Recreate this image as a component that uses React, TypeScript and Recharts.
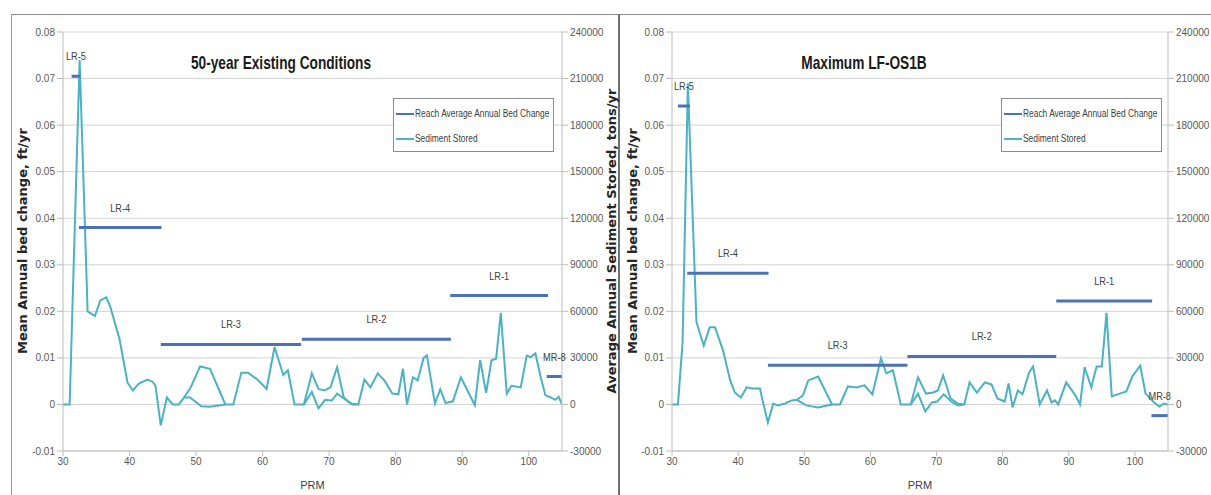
import React from 'react';
import { ComposedChart, Line, XAxis, YAxis, CartesianGrid, Legend, ReferenceDot } from 'recharts';

const REACH_NAME = 'Reach Average Annual Bed Change';
const SED_NAME = 'Sediment Stored';
const X_LABEL = 'PRM';
const LEFT_AXIS_TITLE = 'Mean Annual bed change, ft/yr';
const RIGHT_AXIS_TITLE = 'Average Annual Sediment Stored, tons/yr';

const xTicks = [30, 40, 50, 60, 70, 80, 90, 100];
const bedTicks = [-0.01, 0, 0.01, 0.02, 0.03, 0.04, 0.05, 0.06, 0.07, 0.08];
const sedTicks = [-30000, 0, 30000, 60000, 90000, 120000, 150000, 180000, 210000, 240000];

// ---------- Panel A: 50-year Existing Conditions ----------
const titleA = '50-year Existing Conditions';
const reachNamesA = ['LR-5', 'LR-4', 'LR-3', 'LR-2', 'LR-1', 'MR-8'];
const reachStartA = [31.3, 32.4, 44.7, 65.9, 88.2, 102.7];
const reachEndA = [32.6, 44.8, 65.8, 88.3, 102.9, 105];
const reachBedA = [0.0705, 0.038, 0.0129, 0.014, 0.0234, 0.006];

const sedMileA = [30, 31, 32.5, 33.7, 34.8, 35.6, 36.5, 37.1, 38.5, 39.7, 40.5, 41.4, 42.7, 43.5, 43.9, 44.7, 45.6, 46.5, 47.4, 48.2,
  49.2, 50.6, 52.1, 54.4, 55.6, 56.8, 57.8, 59.1, 60.6, 61.8, 63.1, 63.8, 64.8, 66.2,
  67.4, 68.4, 69.3, 70.2, 71.2, 72.2, 73.2, 74.4, 75.3, 76.2, 77.3, 78.3, 79.5, 80.4, 81.1, 81.7, 82.6, 83.3, 84.2, 84.7,
  85.9, 86.7, 87.5, 88.6, 89.8, 91.9, 92.7, 93.6, 94.4, 95.1, 95.8, 96.7, 97.4, 98.8, 99.7, 100.3, 101, 101.8, 102.5,
  103.3, 104, 104.5, 105];
const sedTonsA = [0, 0, 222000, 60000, 57000, 67000, 69000, 63000, 42000, 14000, 9000, 13500, 16000, 14500, 12000, -13500, 4500, 0, 0, 4500,
  11000, 24500, 23000, 0, 0, 20500, 20500, 16500, 10000, 37000, 19000, 22000, 0, 0,
  20000, 10000, 9000, 11000, 24000, 4500, 600, 0, 16000, 11000, 20000, 15500, 7000, 6500, 23000, 0, 17500, 15500, 30000, 31500,
  600, 9700, 900, 2000, 17500, -500, 28500, 7500, 28500, 29500, 59000, 7000, 12000, 11000, 31500, 30500, 33000, 17500, 6000,
  4500, 3000, 5000, 0];
const branch1MileA = [48.2, 49.1, 50.8, 52.1, 54.4];
const branch1TonsA = [4500, 4500, -1200, -1500, 0];
const branch2MileA = [66.2, 67.4, 68.4, 69.4, 70.4, 71.2, 72.5, 73.5, 74.4];
const branch2TonsA = [0, 8000, -2500, 3000, 2500, 7000, 3000, 0, 0];

// ---------- Panel B: Maximum LF-OS1B ----------
const titleB = 'Maximum LF-OS1B';
const reachNamesB = ['LR-5', 'LR-4', 'LR-3', 'LR-2', 'LR-1', 'MR-8'];
const reachStartB = [30.9, 32.3, 44.5, 65.6, 88.1, 102.5];
const reachEndB = [32.7, 44.6, 65.6, 88.1, 102.6, 105];
const reachBedB = [0.0641, 0.0282, 0.0084, 0.0103, 0.0222, -0.0024];

const sedMileB = [30, 30.9, 31.6, 32.4, 33.7, 34.8, 35.7, 36.5, 37.7, 38.8, 39.5, 40.4, 41.3, 42.1, 43.3, 43.7, 44.5, 45.3, 46.0, 47.1, 48.1, 48.9,
  49.8, 50.6, 52.1, 54.2, 55.4, 56.6, 57.9, 59.1, 60.3, 61.6, 62.4, 63.4, 64.6, 66.1,
  67.2, 68.4, 69.5, 70.2, 71.0, 72.1, 73.2, 74.2, 75.0, 76.1, 77.3, 78.3, 79.2, 80.3, 80.9, 81.5, 82.3, 83.0, 84.0, 84.6,
  85.6, 86.7, 87.4, 87.9, 88.4, 89.6, 90.9, 91.7, 92.4, 93.4, 94.2, 95.0, 95.7, 96.5, 97.7, 98.7, 99.6, 100.8, 101.6,
  102.9, 103.7, 104.4, 105];
const sedTonsB = [0, 0, 40000, 207000, 53000, 38000, 49700, 49700, 35000, 15500, 7700, 4500, 11000, 10300, 10300, 2600, -11600, 600, -600, 600, 2600, 3000,
  5800, 15500, 18000, 0, 0, 11600, 11000, 12300, 6500, 29700, 20000, 22000, 0, 0,
  17500, 7000, 7700, 9000, 18700, 4000, 600, 0, 14200, 7700, 14200, 12900, 3900, 1900, 13500, -1900, 9000, 6500, 20600, 24500,
  0, 9000, 1300, 2600, 0, 14200, 6500, 0, 24000, 11000, 24500, 24500, 59000, 5200, 7000, 8400, 18000, 25000, 7000,
  1300, -1300, 600, 0];
const branch1MileB = [48.9, 50.3, 52.1, 54.2];
const branch1TonsB = [3000, -600, -1900, 0];
const branch2MileB = [66.1, 67.2, 68.3, 69.3, 70.1, 71.1, 72.2, 73.2, 74.2];
const branch2TonsB = [0, 7000, -4500, 1300, 1900, 6500, 1900, -600, 0];

const REACH_COLOR = '#4a72b6';
const SED_COLOR = '#4bb2c2';
const TEXT_COLOR = '#404040';
const GRID_COLOR = '#d3d3d3';
const AXIS_COLOR = '#bdbdbd';

const toRows = (xs: number[], ys: number[]) => xs.map((x, i) => ({ x, v: ys[i] }));

const bedFmt = (v: number) => (v === 0 ? '0' : v.toFixed(2));

const segLabel = (text: string) => (props: any) => {
  const vb = props.viewBox || {};
  const cx = (vb.x || 0) + (vb.width || 0) / 2;
  const cy = vb.y || 0;
  return (
    <text
      x={0}
      y={0}
      transform={`translate(${cx},${cy - 16}) scale(0.8,1)`}
      textAnchor="middle"
      fontSize={11.5}
      fontFamily="Liberation Sans, Arial, sans-serif"
      fill={TEXT_COLOR}
    >
      {text}
    </text>
  );
};

const renderLegend = (props: any) => {
  const payload = (props.payload || []).filter((p: any) => p.type !== 'none');
  const ordered = [REACH_NAME, SED_NAME]
    .map((n) => payload.find((p: any) => p.value === n))
    .filter(Boolean);
  return (
    <div
      style={{
        border: '1px solid #8c8c8c',
        background: '#fff',
        width: 161,
        height: 54,
        boxSizing: 'border-box',
        paddingTop: 2,
        paddingLeft: 2,
      }}
    >
      {ordered.map((p: any) => (
        <div key={p.value} style={{ display: 'flex', alignItems: 'center', height: 25 }}>
          <span style={{ width: 18, height: 2, background: p.color, display: 'inline-block', flex: 'none' }} />
          <span
            style={{
              fontSize: 10,
              fontFamily: 'Liberation Sans, Arial, sans-serif',
              color: TEXT_COLOR,
              transform: 'scaleX(0.84)',
              transformOrigin: 'left center',
              whiteSpace: 'nowrap',
              marginLeft: 1,
            }}
          >
            {p.value}
          </span>
        </div>
      ))}
    </div>
  );
};

type PanelProps = {
  left: number;
  width: number;
  marginLeft: number;
  leftAxisW: number;
  legendLeft: number;
  names: string[];
  starts: number[];
  ends: number[];
  beds: number[];
  sedMile: number[];
  sedTons: number[];
  b1Mile: number[];
  b1Tons: number[];
  b2Mile: number[];
  b2Tons: number[];
};

const Panel = (p: PanelProps) => {
  const sedRows = toRows(p.sedMile, p.sedTons);
  const b1Rows = toRows(p.b1Mile, p.b1Tons);
  const b2Rows = toRows(p.b2Mile, p.b2Tons);
  const segs = p.names.map((name, i) => ({
    name,
    rows: [
      { x: p.starts[i], v: p.beds[i] },
      { x: p.ends[i], v: p.beds[i] },
    ],
    mid: (p.starts[i] + p.ends[i]) / 2,
    bed: p.beds[i],
  }));
  const tickStyle = { fontSize: 10, fill: '#595959', fontFamily: 'Liberation Sans, Arial, sans-serif' };
  return (
    <div style={{ position: 'absolute', left: p.left, top: 0 }}>
      <ComposedChart width={p.width} height={500} margin={{ top: 32, right: 0, bottom: 9, left: p.marginLeft }}>
        <CartesianGrid yAxisId="L" vertical={false} stroke={GRID_COLOR} />
        <XAxis
          dataKey="x"
          type="number"
          domain={[30, 105]}
          ticks={xTicks}
          allowDataOverflow
          height={40}
          tick={tickStyle}
          tickSize={5}
          stroke={AXIS_COLOR}
          label={{ value: X_LABEL, position: 'insideBottom', offset: 2, fontSize: 11, fill: TEXT_COLOR, fontFamily: 'Liberation Sans, Arial, sans-serif' }}
        />
        <YAxis
          yAxisId="L"
          type="number"
          domain={[-0.01, 0.08]}
          ticks={bedTicks}
          allowDataOverflow
          width={p.leftAxisW}
          tick={tickStyle}
          tickFormatter={bedFmt}
          tickSize={6}
          stroke={AXIS_COLOR}
        />
        <YAxis
          yAxisId="R"
          orientation="right"
          type="number"
          domain={[-30000, 240000]}
          ticks={sedTicks}
          allowDataOverflow
          width={57}
          tick={tickStyle}
          tickSize={6}
          stroke={AXIS_COLOR}
        />
        <Line
          data={sedRows}
          dataKey="v"
          yAxisId="R"
          name={SED_NAME}
          stroke={SED_COLOR}
          strokeWidth={2}
          dot={false}
          activeDot={false}
          legendType="plainline"
          isAnimationActive={false}
        />
        <Line data={b1Rows} dataKey="v" yAxisId="R" name="branch1" stroke={SED_COLOR} strokeWidth={2} dot={false} activeDot={false} legendType="none" isAnimationActive={false} />
        <Line data={b2Rows} dataKey="v" yAxisId="R" name="branch2" stroke={SED_COLOR} strokeWidth={2} dot={false} activeDot={false} legendType="none" isAnimationActive={false} />
        {segs.map((s, i) => (
          <Line
            key={s.name}
            data={s.rows}
            dataKey="v"
            yAxisId="L"
            name={i === 0 ? REACH_NAME : `${REACH_NAME} ${s.name}`}
            stroke={REACH_COLOR}
            strokeWidth={3}
            dot={false}
            activeDot={false}
            legendType={i === 0 ? 'plainline' : 'none'}
            isAnimationActive={false}
          />
        ))}
        {segs.map((s) => (
          <ReferenceDot
            key={`lbl-${s.name}`}
            yAxisId="L"
            x={s.mid}
            y={s.bed}
            r={0}
            fill="none"
            stroke="none"
            label={segLabel(s.name)}
          />
        ))}
        <Legend
          layout="vertical"
          align="center"
          verticalAlign="middle"
          content={renderLegend}
          wrapperStyle={{ position: 'absolute', left: p.legendLeft, top: 98, width: 161, height: 54 }}
        />
      </ComposedChart>
    </div>
  );
};

const rotTitle = (text: string, cx: number, cy: number) => (
  <div
    style={{
      position: 'absolute',
      left: cx,
      top: cy,
      transform: 'translate(-50%, -50%) rotate(-90deg)',
      whiteSpace: 'nowrap',
      fontFamily: 'DejaVu Sans, Verdana, sans-serif',
      fontWeight: 'bold',
      fontSize: 13,
      color: '#262626',
    }}
  >
    {text}
  </div>
);

const chartTitle = (text: string, cx: number, cy: number) => (
  <div
    style={{
      position: 'absolute',
      left: cx,
      top: cy,
      transform: 'translate(-50%, -50%) scaleX(0.72)',
      whiteSpace: 'nowrap',
      fontFamily: 'Liberation Sans, Arial, sans-serif',
      fontWeight: 'bold',
      fontSize: 19,
      color: '#1a1a1a',
    }}
  >
    {text}
  </div>
);

export default function App() {
  return (
    <div style={{ position: 'fixed', left: 0, top: 0, width: 1211, height: 495, overflow: 'hidden', background: '#fff' }}>
      {/* panel frames */}
      <div style={{ position: 'absolute', left: 11, top: 14, width: 608, height: 520, borderTop: '1px solid #8a8a8a', borderLeft: '1px solid #9a9a9a', boxSizing: 'border-box' }} />
      <div style={{ position: 'absolute', left: 618, top: 14, width: 620, height: 520, borderTop: '1px solid #8a8a8a', borderLeft: '2px solid #707070', boxSizing: 'border-box' }} />

      <Panel
        left={0}
        width={619}
        marginLeft={8}
        leftAxisW={55}
        legendLeft={393}
        names={reachNamesA}
        starts={reachStartA}
        ends={reachEndA}
        beds={reachBedA}
        sedMile={sedMileA}
        sedTons={sedTonsA}
        b1Mile={branch1MileA}
        b1Tons={branch1TonsA}
        b2Mile={branch2MileA}
        b2Tons={branch2TonsA}
      />
      <Panel
        left={619}
        width={606}
        marginLeft={3}
        leftAxisW={50}
        legendLeft={382}
        names={reachNamesB}
        starts={reachStartB}
        ends={reachEndB}
        beds={reachBedB}
        sedMile={sedMileB}
        sedTons={sedTonsB}
        b1Mile={branch1MileB}
        b1Tons={branch1TonsB}
        b2Mile={branch2MileB}
        b2Tons={branch2TonsB}
      />

      {chartTitle(titleA, 281, 63)}
      {chartTitle(titleB, 864, 63)}
      {rotTitle(LEFT_AXIS_TITLE, 22, 241)}
      {rotTitle(RIGHT_AXIS_TITLE, 611, 241)}
      {rotTitle(LEFT_AXIS_TITLE, 632, 241)}
    </div>
  );
}
